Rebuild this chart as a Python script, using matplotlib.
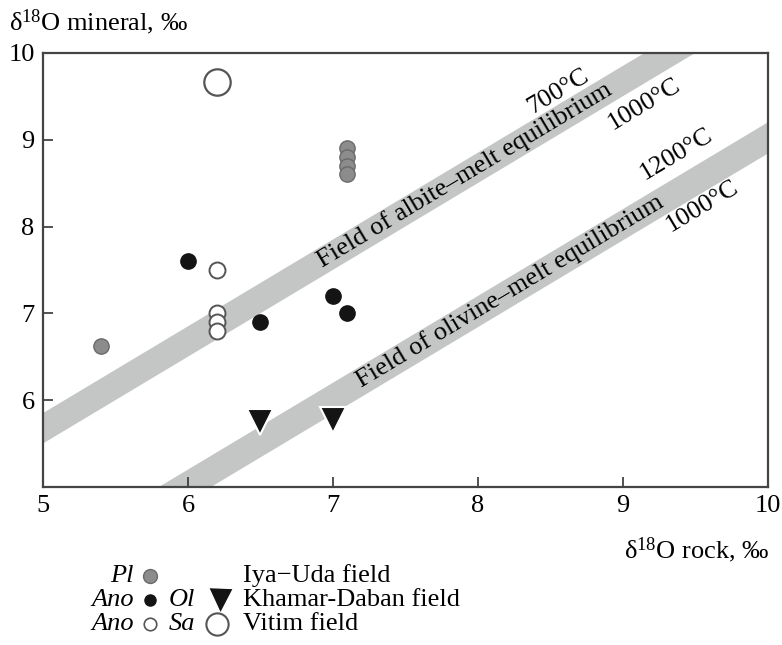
import numpy as np
import matplotlib.pyplot as plt
from matplotlib.lines import Line2D

plt.rcParams['font.family'] = ['Liberation Serif', 'DejaVu Serif']
plt.rcParams['mathtext.fontset'] = 'custom'
plt.rcParams['mathtext.rm'] = 'Liberation Serif'
plt.rcParams['mathtext.it'] = 'Liberation Serif:italic'

# Iya-Uda field, plagioclase
pl_x = [5.4, 7.1, 7.1, 7.1, 7.1]
pl_y = [6.62, 8.9, 8.8, 8.7, 8.6]
# Khamar-Daban field, anorthoclase and olivine
ano_kd_x = [6.0, 7.0, 7.1, 6.5]
ano_kd_y = [7.6, 7.2, 7.0, 6.9]
ol_x = [6.5, 7.0]
ol_y = [5.75, 5.77]
# Vitim field, anorthoclase and sanidine
ano_v_x = [6.2, 6.2, 6.2, 6.2]
ano_v_y = [7.5, 7.0, 6.9, 6.8]
sa_x = [6.2]
sa_y = [9.67]

# equilibrium fields: y = x + offset (lower, upper)
band_x = [5.0, 10.0]
albite_offsets = [0.51, 0.86]
olivine_offsets = [-1.15, -0.79]

band_color = '#c4c6c5'
grey = '#8c8c8c'
ink = '#141414'

fig = plt.figure(figsize=(7.82, 6.45), dpi=100)
ax = fig.add_axes([0.055, 0.245, 0.927, 0.673])

bx = np.array(band_x)
ax.fill_between(bx, bx + albite_offsets[0], bx + albite_offsets[1],
                color=band_color, lw=0, zorder=1)
ax.fill_between(bx, bx + olivine_offsets[0], bx + olivine_offsets[1],
                color=band_color, lw=0, zorder=1)

ax.set_xlim(5, 10)
ax.set_ylim(5, 10)

# rotation of a slope-1 line in screen space
fig.canvas.draw()
p0 = ax.transData.transform((5, 5))
p1 = ax.transData.transform((10, 10))
ang = np.degrees(np.arctan2(p1[1] - p0[1], p1[0] - p0[0]))

fs = 19
ax.text(7.91, 7.91 + np.mean(albite_offsets), 'Field of albite\u2013melt equilibrium',
        rotation=ang, rotation_mode='anchor', ha='center', va='center',
        fontsize=fs, zorder=2)
ax.text(8.22, 8.22 + np.mean(olivine_offsets), 'Field of olivine\u2013melt equilibrium',
        rotation=ang, rotation_mode='anchor', ha='center', va='center',
        fontsize=fs, zorder=2)
ax.text(8.55, 9.55, '700\u00b0C', rotation=ang, rotation_mode='anchor',
        ha='center', va='center', fontsize=fs)
ax.text(9.15, 9.41, '1000\u00b0C', rotation=ang, rotation_mode='anchor',
        ha='center', va='center', fontsize=fs)
ax.text(9.37, 8.83, '1200\u00b0C', rotation=ang, rotation_mode='anchor',
        ha='center', va='center', fontsize=fs)
ax.text(9.55, 8.24, '1000\u00b0C', rotation=ang, rotation_mode='anchor',
        ha='center', va='center', fontsize=fs)

# data points, lower ones drawn over upper ones
for x, y in zip(pl_x, pl_y):
    ax.plot(x, y, 'o', ms=11, mfc=grey, mec='#6a6a6a', mew=1.0, zorder=3)
ax.plot(ano_kd_x, ano_kd_y, 'o', ms=11, mfc=ink, mec=ink, ls='none', zorder=3)
for x, y in zip(ano_v_x, ano_v_y):
    ax.plot(x, y, 'o', ms=11.5, mfc='white', mec='#555555', mew=1.4, zorder=3)
ax.plot(sa_x, sa_y, 'o', ms=19, mfc='white', mec='#555555', mew=1.6, ls='none', zorder=3)
ax.plot(ol_x, ol_y, 'v', ms=19, mfc=ink, mec='white', mew=1.5, ls='none', zorder=3)

ax.set_xticks([5, 6, 7, 8, 9, 10])
ax.set_yticks([6, 7, 8, 9, 10])
ax.tick_params(direction='in', length=7, width=1.2, labelsize=fs, pad=6,
               colors='#333333', labelcolor='black')
for s in ax.spines.values():
    s.set_color('#444444')
    s.set_linewidth(1.6)

fig.text(0.012, 0.966, '\u03b4$^{18}$O mineral, $\\mathit{‰}$', fontsize=fs,
         ha='left', va='center')
fig.text(0.983, 0.147, '\u03b4$^{18}$O rock, $\\mathit{‰}$', fontsize=fs,
         ha='right', va='center')

# legend block below the axes
rows = [0.107, 0.069, 0.033]
def fx(px):
    return px / 782.0

fig.text(fx(134), rows[0], 'Pl', style='italic', fontsize=fs, ha='right', va='center')
fig.text(fx(134), rows[1], 'Ano', style='italic', fontsize=fs, ha='right', va='center')
fig.text(fx(134), rows[2], 'Ano', style='italic', fontsize=fs, ha='right', va='center')
fig.text(fx(182), rows[1], 'Ol', style='italic', fontsize=fs, ha='center', va='center')
fig.text(fx(182), rows[2], 'Sa', style='italic', fontsize=fs, ha='center', va='center')

leg_marks = [
    (150, rows[0], 'o', 10, grey, '#6a6a6a', 1.0),
    (150, rows[1], 'o', 8, ink, ink, 1.0),
    (150, rows[2], 'o', 9, 'white', '#555555', 1.2),
    (220, rows[1], 'v', 18, ink, 'white', 1.0),
    (217, rows[2], 'o', 16, 'white', '#555555', 1.5),
]
for px, y, m, ms, fc, ec, mw in leg_marks:
    fig.add_artist(Line2D([fx(px)], [y], marker=m, ms=ms, mfc=fc, mec=ec, mew=mw,
                          ls='none', transform=fig.transFigure))

fig.text(fx(243), rows[0], 'Iya\u2212Uda field', fontsize=fs, ha='left', va='center')
fig.text(fx(243), rows[1], 'Khamar-Daban field', fontsize=fs, ha='left', va='center')
fig.text(fx(243), rows[2], 'Vitim field', fontsize=fs, ha='left', va='center')

fig.savefig('out.png', dpi=100)
